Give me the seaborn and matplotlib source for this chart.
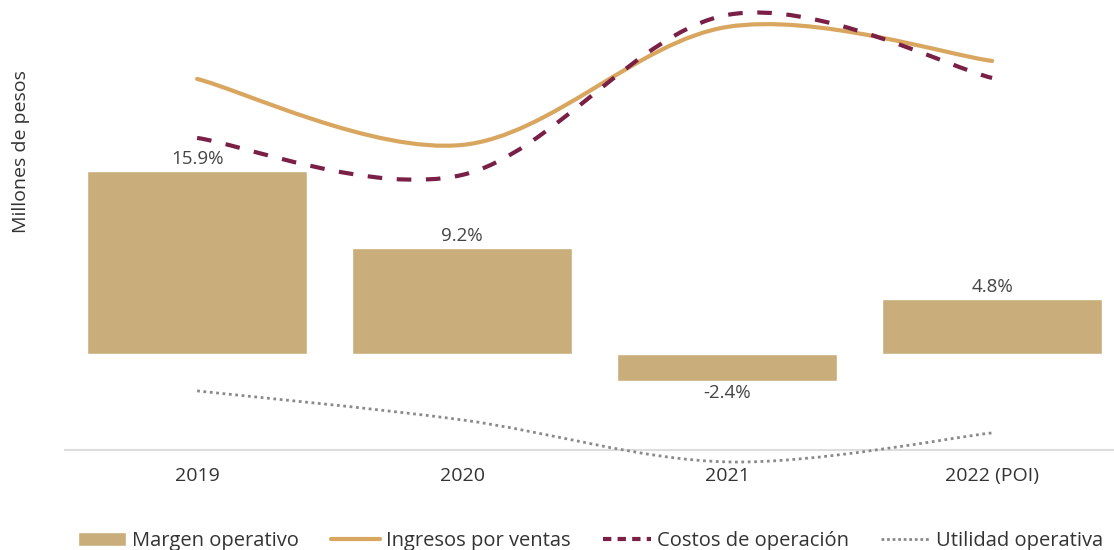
import numpy as np
import pandas as pd
import seaborn as sns
import matplotlib.pyplot as plt
from matplotlib.path import Path
from matplotlib.patches import PathPatch, Patch
from matplotlib.lines import Line2D

# datos
anios = ["2019", "2020", "2021", "2022 (POI)"]
margen = [15.9, 9.2, -2.4, 4.8]  # % margen operativo
ingresos = [3710, 3050, 4230, 3890]  # millones de pesos (estimado)
costos = [3120, 2750, 4350, 3720]
utilidad = [590, 300, -120, 170]

c_barra = "#C9AE7C"
c_ing = "#D9A660"
c_cos = "#7A1F45"
c_uti = "#8A8A8A"

sns.set_style("white")
plt.rcParams["font.family"] = ["Open Sans", "DejaVu Sans"]

fig = plt.figure(figsize=(11.14, 5.5), dpi=100)
ax = fig.add_axes([0.058, 0.182, 0.942, 0.809])

df = pd.DataFrame({"anio": anios, "margen": margen})
sns.barplot(data=df, x="anio", y="margen", color=c_barra, saturation=1,
            width=0.83, ax=ax)
for cont in ax.containers:
    ax.bar_label(cont, labels=[f"{v:.1f}%" for v in margen], padding=2,
                 fontsize=13.5, color="#444444")

ax.set_xlim(-0.5, 3.46)
ax.set_ylim(-8.34, 30.3)
ax.set_yticks([])
ax.set_xlabel("")
ax.set_ylabel("Millones de pesos", fontsize=14, color="#333333")
ax.yaxis.set_label_coords(-0.033, 0.67)
ax.tick_params(axis="x", length=0, labelsize=14, labelcolor="#333333", pad=12)
for s in ["top", "right", "left"]:
    ax.spines[s].set_visible(False)
ax.spines["bottom"].set_color("#DDDDDD")
ax.spines["bottom"].set_linewidth(1.5)

# eje secundario para las curvas
ax2 = ax.twinx()
ax2.set_ylim(0, 4450)
ax2.set_yticks([])
for s in ax2.spines.values():
    s.set_visible(False)


def curva_suave(axis, xs, ys, **kw):
    # curva tipo Excel (Catmull-Rom en Bezier)
    p = np.column_stack([xs, ys]).astype(float)
    pp = np.vstack([p[0], p, p[-1]])
    verts = [p[0]]
    codes = [Path.MOVETO]
    for i in range(len(p) - 1):
        c1 = pp[i + 1] + (pp[i + 2] - pp[i]) / 6
        c2 = pp[i + 2] - (pp[i + 3] - pp[i + 1]) / 6
        verts += [c1, c2, pp[i + 2]]
        codes += [Path.CURVE4] * 3
    patch = PathPatch(Path(verts, codes), fill=False, clip_on=False, **kw)
    axis.add_patch(patch)


xs = np.arange(len(anios))
curva_suave(ax2, xs, ingresos, edgecolor=c_ing, lw=3, capstyle="round")
curva_suave(ax2, xs, costos, edgecolor=c_cos, lw=3, linestyle=(0, (3.5, 3.5)))
curva_suave(ax2, xs, utilidad, edgecolor=c_uti, lw=2, linestyle=(0, (1, 1.3)))

handles = [
    Patch(facecolor=c_barra, label="Margen operativo"),
    Line2D([], [], color=c_ing, lw=3, label="Ingresos por ventas"),
    Line2D([], [], color=c_cos, lw=3, linestyle=(0, (2, 1.5)), label="Costos de operación"),
    Line2D([], [], color=c_uti, lw=2, linestyle=(0, (1, 1)), label="Utilidad operativa"),
]
fig.legend(handles=handles, loc="lower center", bbox_to_anchor=(0.53, -0.035),
           ncol=4, frameon=False, fontsize=14.5, handlelength=2.4,
           handletextpad=0.3, columnspacing=1.6, labelcolor="#333333")

fig.savefig("out.png", dpi=100)
